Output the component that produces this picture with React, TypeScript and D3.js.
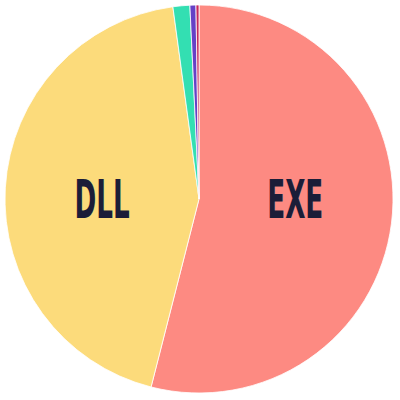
import React from "react";
import * as d3 from "d3";

const categories = ["EXE", "DLL", "SYS", "DRV", "OCX"];
const values = [54.0, 43.9, 1.4, 0.5, 0.25];
const colors = ["#fd8a82", "#fcdb7b", "#33dfb2", "#6541c6", "#c9285c"];
const labeled = ["EXE", "DLL"];

export default function App() {
  const width = 400;
  const height = 400;
  const cx = 199;
  const cy = 199;
  const radius = 194;

  const data = categories.map((c, i) => ({ name: c, value: values[i], color: colors[i] }));
  const pie = d3.pie<any>().value((d: any) => d.value).sort(null);
  const arcs = pie(data);
  const arc = d3.arc<any>().innerRadius(0).outerRadius(radius);

  return (
    <svg
      width={width}
      height={height}
      style={{ position: "absolute", left: 0, top: 0, background: "#fff" }}
    >
      <g transform={`translate(${cx},${cy})`}>
        {arcs.map((a, i) => (
          <path key={i} d={arc(a) as string} fill={a.data.color} stroke="#fff" strokeWidth={0.8} />
        ))}
        {arcs
          .filter((a) => labeled.includes(a.data.name))
          .map((a, i) => {
            const [x] = arc.centroid(a);
            return (
              <text
                key={i}
                transform={`translate(${x},0) scale(0.54,1)`}
                textAnchor="middle"
                dominantBaseline="central"
                fontFamily="'Liberation Sans Narrow', 'DejaVu Sans Condensed', 'Liberation Sans', sans-serif"
                fontWeight="bold"
                fontSize={54}
                fill="#1b1d38"
              >
                {a.data.name}
              </text>
            );
          })}
      </g>
    </svg>
  );
}
